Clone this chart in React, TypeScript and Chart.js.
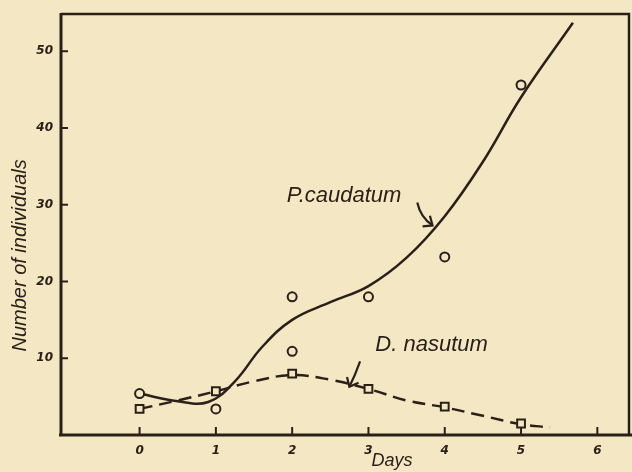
import React, { useEffect, useRef } from "react";
import { Chart, registerables } from "chart.js";

Chart.register(...registerables);

const BG = "#f4e7c4";
const INK = "#2b2018";

// Axis ticks
const xTickValues = [0, 1, 2, 3, 4, 5, 6];
const yTickValues = [10, 20, 30, 40, 50];

// Observed counts
const caudatumDays = [0, 1, 2, 2, 3, 4, 5];
const caudatumCounts = [5.4, 3.4, 10.9, 18.0, 18.0, 23.2, 45.6];
const nasutumDays = [0, 1, 2, 3, 4, 5];
const nasutumCounts = [3.4, 5.7, 8.0, 6.0, 3.7, 1.5];

// Hand-drawn fitted curves
const caudatumCurveDays = [0, 0.5, 0.9, 1.25, 1.6, 2.0, 2.5, 3.0, 3.5, 4.0, 4.5, 5.0, 5.68];
const caudatumCurveCounts = [5.4, 4.4, 4.3, 7.0, 11.4, 15.0, 17.3, 19.4, 23.1, 28.5, 35.6, 44.0, 53.7];
const nasutumCurveDays = [0, 0.5, 1.0, 1.5, 2.0, 2.5, 3.0, 3.5, 4.0, 4.5, 5.0, 5.38];
const nasutumCurveCounts = [3.4, 4.5, 5.7, 7.0, 7.8, 7.2, 6.0, 4.5, 3.6, 2.5, 1.4, 1.0];

// Annotations (data coordinates)
const annotationTexts = ["P.caudatum", "D. nasutum"];
const annotationTextDays = [1.93, 3.09];
const annotationTextCounts = [30.3, 10.9];
const arrowStartDays = [3.64, 2.89];
const arrowStartCounts = [30.3, 9.6];
const arrowBendDays = [3.68, 2.83];
const arrowBendCounts = [28.4, 7.9];
const arrowTipDays = [3.84, 2.75];
const arrowTipCounts = [27.3, 6.3];

const xTitle = "Days";
const yTitle = "Number of individuals";

const toPoints = (xs: number[], ys: number[]) => xs.map((x, i) => ({ x, y: ys[i] }));

const decor = {
  id: "decor",
  beforeDraw(chart: any) {
    const { ctx } = chart;
    ctx.save();
    ctx.fillStyle = BG;
    ctx.fillRect(0, 0, chart.width, chart.height);
    ctx.restore();
  },
  afterDraw(chart: any) {
    const { ctx, chartArea: a } = chart;
    const xs = chart.scales.x;
    const ys = chart.scales.y;
    ctx.save();
    ctx.strokeStyle = INK;
    ctx.fillStyle = INK;
    ctx.lineCap = "butt";

    // frame top & right
    ctx.lineWidth = 2.5;
    ctx.beginPath();
    ctx.moveTo(a.left, a.top);
    ctx.lineTo(a.right, a.top);
    ctx.lineTo(a.right, a.bottom);
    ctx.stroke();
    // axes
    ctx.lineWidth = 3;
    ctx.beginPath();
    ctx.moveTo(a.left, a.top - 1);
    ctx.lineTo(a.left, a.bottom);
    ctx.stroke();
    ctx.beginPath();
    ctx.moveTo(a.left - 2, a.bottom);
    ctx.lineTo(chart.width, a.bottom);
    ctx.stroke();

    // inward ticks
    ctx.lineWidth = 2;
    xTickValues.forEach((v) => {
      const px = xs.getPixelForValue(v);
      ctx.beginPath();
      ctx.moveTo(px, a.bottom);
      ctx.lineTo(px, a.bottom - 8);
      ctx.stroke();
    });
    yTickValues.forEach((v) => {
      const py = ys.getPixelForValue(v);
      ctx.beginPath();
      ctx.moveTo(a.left, py);
      ctx.lineTo(a.left + 7, py);
      ctx.stroke();
    });

    // axis titles
    ctx.font = 'italic 18px "Liberation Sans", Arial, sans-serif';
    ctx.textAlign = "center";
    ctx.textBaseline = "alphabetic";
    ctx.fillText(xTitle, xs.getPixelForValue(3.31), a.bottom + 31);

    ctx.save();
    ctx.font = 'italic 20px "Liberation Sans", Arial, sans-serif';
    ctx.translate(26, ys.getPixelForValue(23.4));
    ctx.rotate(-Math.PI / 2);
    ctx.textAlign = "center";
    ctx.fillText(yTitle, 0, 0);
    ctx.restore();

    // annotations
    ctx.font = 'italic 22px "Liberation Sans", Arial, sans-serif';
    ctx.textAlign = "left";
    annotationTexts.forEach((t, i) => {
      ctx.fillText(t, xs.getPixelForValue(annotationTextDays[i]), ys.getPixelForValue(annotationTextCounts[i]));
      const sx = xs.getPixelForValue(arrowStartDays[i]);
      const sy = ys.getPixelForValue(arrowStartCounts[i]);
      const bx = xs.getPixelForValue(arrowBendDays[i]);
      const by = ys.getPixelForValue(arrowBendCounts[i]);
      const tx = xs.getPixelForValue(arrowTipDays[i]);
      const ty = ys.getPixelForValue(arrowTipCounts[i]);
      ctx.lineWidth = 2.2;
      ctx.beginPath();
      ctx.moveTo(sx, sy);
      ctx.quadraticCurveTo(bx, by, tx, ty);
      ctx.stroke();
      const ang = Math.atan2(by - ty, bx - tx);
      const len = 10;
      ctx.beginPath();
      ctx.moveTo(tx + len * Math.cos(ang + 0.7), ty + len * Math.sin(ang + 0.7));
      ctx.lineTo(tx, ty);
      ctx.lineTo(tx + len * Math.cos(ang - 0.7), ty + len * Math.sin(ang - 0.7));
      ctx.stroke();
    });
    ctx.restore();
  },
};

export default function App() {
  const ref = useRef<HTMLCanvasElement | null>(null);

  useEffect(() => {
    if (!ref.current) return;
    const tickFont = { family: '"DejaVu Sans", sans-serif', size: 12, style: "italic" as const, weight: "bold" as const };
    const chart = new Chart(ref.current, {
      type: "scatter",
      data: {
        datasets: [
          {
            label: "P. caudatum (observed)",
            data: toPoints(caudatumDays, caudatumCounts),
            pointStyle: "circle",
            pointRadius: 4.5,
            pointBorderWidth: 2,
            backgroundColor: BG,
            borderColor: INK,
            showLine: false,
            order: 0,
          },
          {
            label: "D. nasutum (observed)",
            data: toPoints(nasutumDays, nasutumCounts),
            pointStyle: "rect",
            pointRadius: 5.5,
            pointBorderWidth: 2,
            backgroundColor: BG,
            borderColor: INK,
            showLine: false,
            order: 0,
          },
          {
            label: "P. caudatum",
            data: toPoints(caudatumCurveDays, caudatumCurveCounts),
            showLine: true,
            pointRadius: 0,
            borderColor: INK,
            borderWidth: 2.5,
            tension: 0.4,
            order: 1,
          },
          {
            label: "D. nasutum",
            data: toPoints(nasutumCurveDays, nasutumCurveCounts),
            showLine: true,
            pointRadius: 0,
            borderColor: INK,
            borderWidth: 2.5,
            borderDash: [13, 7],
            tension: 0.4,
            order: 1,
          },
        ],
      },
      options: {
        animation: false,
        responsive: false,
        events: [],
        layout: { autoPadding: false, padding: { top: 14, right: 3, left: 0, bottom: 0 } },
        plugins: { legend: { display: false }, tooltip: { enabled: false } },
        scales: {
          x: {
            type: "linear",
            min: -1.03,
            max: 6.415,
            afterBuildTicks: (s: any) => {
              s.ticks = xTickValues.map((v) => ({ value: v }));
            },
            afterFit: (s: any) => {
              s.height = 37;
              s.paddingLeft = 0;
              s.paddingRight = 0;
            },
            grid: { display: false, drawTicks: false },
            border: { display: false },
            ticks: { color: INK, font: tickFont, padding: 9, maxRotation: 0, autoSkip: false, callback: (v: any) => String(v) },
          },
          y: {
            type: "linear",
            min: 0,
            max: 54.85,
            afterBuildTicks: (s: any) => {
              s.ticks = yTickValues.map((v) => ({ value: v }));
            },
            afterFit: (s: any) => {
              s.width = 61;
              s.paddingTop = 0;
              s.paddingBottom = 0;
            },
            grid: { display: false, drawTicks: false },
            border: { display: false },
            ticks: { color: INK, font: tickFont, padding: 8, autoSkip: false, callback: (v: any) => String(v) },
          },
        },
      },
      plugins: [decor],
    });
    return () => chart.destroy();
  }, []);

  return (
    <div style={{ position: "fixed", left: 0, top: 0, width: 632, height: 472, background: BG }}>
      <canvas ref={ref} width={632} height={472} style={{ display: "block", width: 632, height: 472 }} />
    </div>
  );
}
